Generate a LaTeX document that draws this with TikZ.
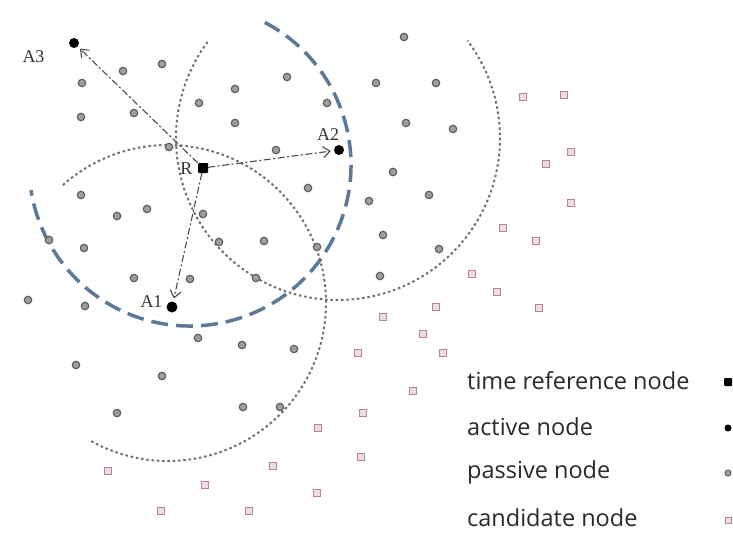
\documentclass[tikz,border=0pt]{standalone}
\usepackage{fontspec}
\newfontfamily\legendfont{Open Sans}
\newfontfamily\labelfont{Liberation Serif}
\usetikzlibrary{arrows.meta}
\definecolor{bluearc}{HTML}{5C7A98}
\definecolor{dotgray}{HTML}{707070}
\definecolor{candedge}{HTML}{B8848E}
\definecolor{candfill}{HTML}{EEDCE0}
\definecolor{txt}{HTML}{2A2A2A}
\begin{document}
\begin{tikzpicture}[x=1pt,y=-1pt,
  passive/.style={circle,draw=black!65,fill=black!38,line width=1.1pt,minimum size=7.5pt,inner sep=0pt},
  cand/.style={rectangle,draw=candedge,fill=candfill,line width=1pt,minimum size=7pt,inner sep=0pt},
  active/.style={circle,fill=black,minimum size=10pt,inner sep=0pt},
  refnode/.style={rectangle,rounded corners=1pt,fill=black,minimum size=10pt,inner sep=0pt},
  lab/.style={font=\labelfont\fontsize{18}{18}\selectfont,text=black!80,inner sep=0pt},
  legtext/.style={font=\legendfont\fontsize{23.5}{24}\selectfont,text=txt,anchor=west,inner sep=0pt},
  rangeline/.style={dotgray,line width=2pt,dash pattern=on 2.5pt off 2.8pt},
  borderline/.style={bluearc,line width=3.5pt,dash pattern=on 17pt off 8pt},
  link/.style={black!70,line width=1.1pt,dash pattern=on 7pt off 2.5pt on 2pt off 2.5pt,
    -{Straight Barb[length=7pt,width=11pt,line width=1.1pt]},shorten >=3pt}
]
\useasboundingbox (0,0) rectangle (733,551);
\fill[white] (0,0) rectangle (733,551);

% ranges
\draw[borderline] (190,165) ++(-62.3:161) arc[start angle=-62.3,end angle=171,radius=161];
\draw[rangeline] (168,303) ++(-131.7:158) arc[start angle=-131.7,end angle=119.6,radius=158];
\draw[rangeline] (338,138) ++(216.4:162) arc[start angle=216.4,end angle=-37,radius=162];

% passive nodes
\foreach \x/\y [count=\i] in {123/71,162/64,82/83,81/117,134/113,199/103,235/89,235/123,169/147,
  287/77,327/103,276/150,404/37,376/83,436/83,406/123,453/129,393/172,308/188,429/195,369/201,
  81/195,117/216,147/209,203/214,84/248,49/240,219/242,264/241,317/247,383/235,439/249,
  134/278,190/279,256/278,380/276,28/300,85/306,198/338,242/345,294/349,76/365,162/376,
  117/413,243/407,280/407}
  \node[passive] (p\i) at (\x,\y) {};

% candidate nodes
\foreach \x/\y [count=\i] in {523/97,564/95,571/152,546/164,571/203,503/228,536/241,472/274,
  497/292,539/308,436/307,383/317,423/334,443/353,358/353,413/391,363/413,318/428,361/457,
  273/466,317/493,249/511,108/471,205/485,161/511}
  \node[cand] (c\i) at (\x,\y) {};

% reference and active nodes
\node[refnode] (R) at (203,168) {};
\node[active,minimum width=11pt,minimum height=9pt] (A1) at (172,307) {};
\node[active] (A2) at (339,150) {};
\node[active] (A3) at (74,43) {};

% labels
\node[lab] (lA3) at (33.5,56.5) {A3};
\node[lab] (lR) at (186.5,169) {R};
\node[lab] (lA2) at (328,135) {A2};
\node[lab] (lA1) at (151.5,301.5) {A1};

% links
\draw[link] (R) -- (A1);
\draw[link] (R) -- (A2);
\draw[link] (R) -- (A3);

% legend
\node[legtext] (t1) at (467,381) {time reference node};
\node[legtext] (t2) at (467,427) {active node};
\node[legtext] (t3) at (467,472) {passive node};
\node[legtext] (t4) at (467,518) {candidate node};
\node[refnode,minimum size=8pt] (m1) at (728,382) {};
\node[active,minimum size=7pt] (m2) at (728,428) {};
\node[passive,minimum size=6pt,line width=0.9pt] (m3) at (728,473) {};
\node[cand,minimum size=6pt] (m4) at (728,520) {};
\end{tikzpicture}
\end{document}
